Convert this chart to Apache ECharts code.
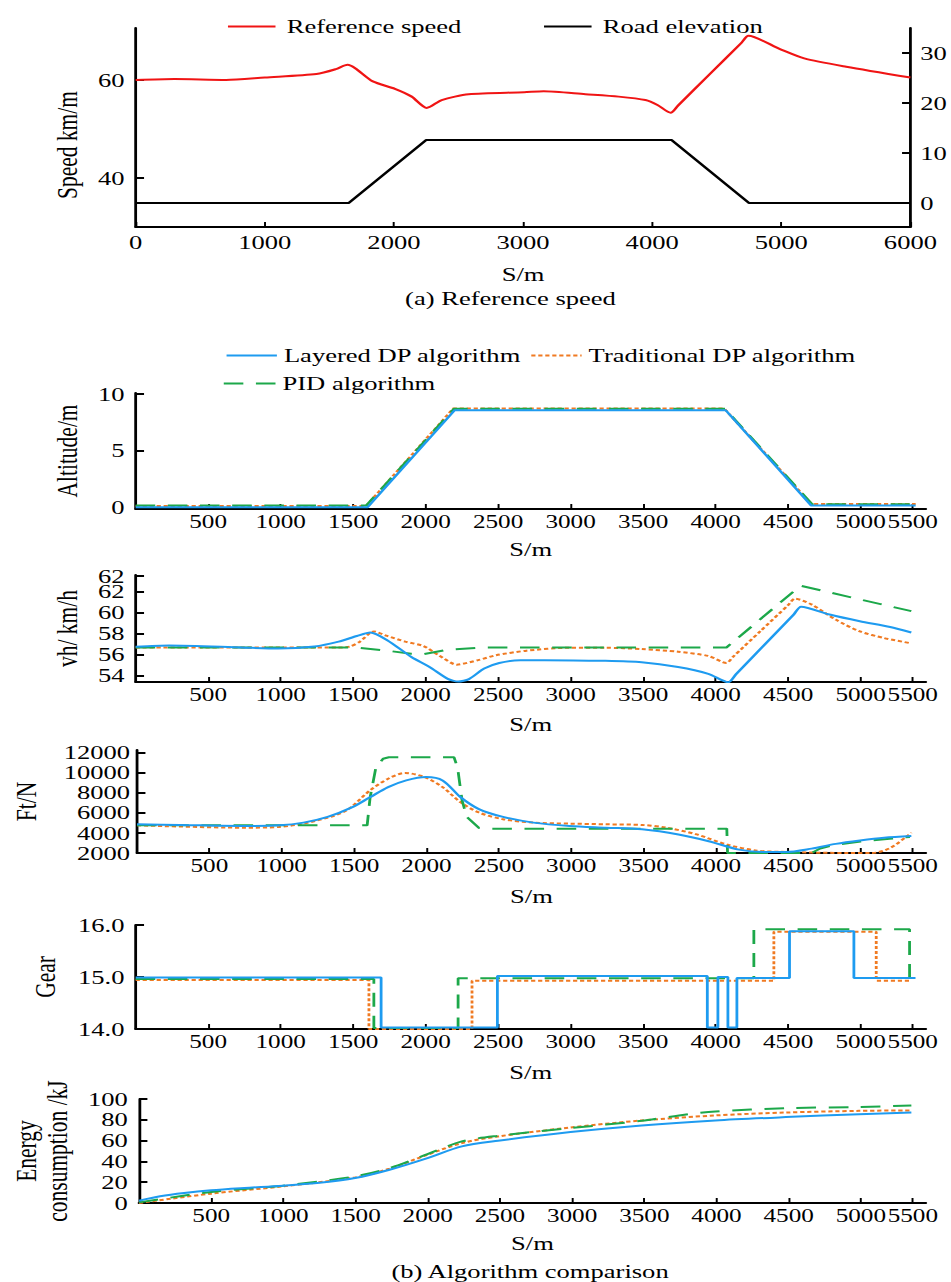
<!DOCTYPE html>
<html>
<head>
<meta charset="utf-8">
<title>Reference speed and algorithm comparison</title>
<script src="https://cdn.jsdelivr.net/npm/echarts@6.0.0/dist/echarts.min.js"></script>
<style>
html, body { margin: 0; padding: 0; background: #fff; overflow: hidden; }
/* the source figure is stretched sideways, so draw narrower and widen it */
#charts { width: 680px; height: 1282px; transform: scaleX(1.3985); transform-origin: 0 0; }
</style>
</head>
<body>
<div id="charts"></div>
<script>
// ---- data (distance in m, value) ----
var refSpeed = [[0,60],[300,60.2],[700,60],[1000,60.5],[1400,61.2],[1550,62.2],[1641,63.1],[1700,62.4],[1837,59.7],[2008,58.2],[2138,56.6],[2254,54.3],[2370,55.9],[2579,57.1],[3009,57.5],[3160,57.7],[3483,57.1],[3740,56.6],[3948,55.9],[4041,54.9],[4143,53.3],[4200,54.78],[4445,61.16],[4690,67.54],[4746,69.0],[4990,66.3],[5178,64.4],[5503,62.7],[6000,60.5]];
var roadElev = [[0,0],[1650,0],[2250,12.6],[4150,12.6],[4750,0],[6000,0]];

var altLayered = [[0,0],[1600,0],[2200,8.57],[4070,8.57],[4660,0.15],[5380,0.15]];
var altTraditional = [[0,0.12],[1590,0.12],[2190,8.72],[4060,8.72],[4660,0.3],[5380,0.3]];
var altPID = [[0,0.15],[1590,0.15],[2195,8.7],[4065,8.7],[4665,0.28],[5340,0.28]];

var vhLayered = [[0,56.78],[230,56.9],[731,56.7],[982,56.6],[1233,56.8],[1400,57.26],[1526,57.8],[1618,58.13],[1735,57.4],[1902,55.8],[2027,54.85],[2153,53.72],[2224,53.46],[2299,53.7],[2404,54.7],[2508,55.23],[2654,55.5],[2822,55.5],[3240,55.43],[3490,55.3],[3741,54.85],[3950,54.2],[4088,53.4],[4140,54.14],[4340,57.0],[4540,59.86],[4590,60.58],[4786,59.84],[4995,59.2],[5204,58.65],[5350,58.13]];
var vhTraditional = [[0,56.7],[1400,56.7],[1480,56.8],[1547,57.26],[1643,58.23],[1735,57.8],[1860,57.26],[1986,56.84],[2090,55.97],[2215,55.07],[2362,55.5],[2487,55.97],[2696,56.4],[2989,56.68],[3240,56.68],[3490,56.55],[3741,56.3],[3950,55.9],[4075,55.23],[4120,55.81],[4310,58.27],[4500,60.73],[4548,61.35],[4661,60.8],[4828,59.36],[4995,58.23],[5162,57.6],[5350,57.1]];
var vhPID = [[0,56.7],[1526,56.7],[1735,56.4],[1900,56.1],[1986,56.07],[2153,56.5],[2404,56.7],[4075,56.7],[4585,62.58],[5350,60.16]];

var ftLayered = [[0,4862],[300,4795],[731,4694],[982,4761],[1150,5030],[1317,5600],[1484,6545],[1609,7555],[1735,8566],[1860,9239],[1998,9576],[2111,9239],[2236,7555],[2362,6377],[2529,5600],[2738,5030],[2989,4694],[3240,4525],[3490,4357],[3741,3852],[3950,3178],[4159,2337],[4326,2100],[4481,2100],[4661,2438],[4828,2909],[4995,3246],[5162,3515],[5350,3683]];
var ftTraditional = [[0,4761],[731,4525],[982,4593],[1233,5200],[1442,6209],[1609,8229],[1735,9407],[1852,9980],[1986,9576],[2111,8566],[2236,7050],[2362,6040],[2529,5367],[2738,5030],[2989,4929],[3240,4862],[3490,4795],[3657,4525],[3867,3852],[4075,2842],[4285,2236],[4493,2100],[4912,2000],[5079,2000],[5204,2505],[5330,3785],[5350,4030]];
var ftPID = [[0,4761],[1590,4761],[1610,7500],[1650,10500],[1700,11400],[1740,11550],[2190,11550],[2215,10500],[2245,7300],[2278,5600],[2362,4500],[2420,4430],[4075,4430],[4080,2000],[4661,2000],[4720,2450],[4800,2750],[5000,3150],[5200,3420],[5340,3600]];

var gearLayered = [[0,14.99],[1693,14.03],[2495,15.02],[3943,14.03],[4016,15.0],[4085,14.03],[4147,14.98],[4510,15.88],[4954,14.98],[5379,14.98]];
var gearTraditional = [[0,14.94],[1609,14.0],[2320,14.93],[4402,15.87],[5108,14.93],[5338,14.93]];
var gearPID = [[0,14.96],[1643,14.02],[2224,14.975],[4264,15.92],[5338,14.98]];

var enLayered = [[0,2.2],[146,6.4],[313,9.6],[500,12.2],[731,14.4],[995,16.6],[1233,19.2],[1496,24],[1735,32],[1998,43.2],[2236,54.4],[2487,59.8],[2989,68.2],[3482,74.6],[3992,79.4],[4481,82.6],[4987,85.4],[5350,87]];
var enTraditional = [[0,0],[500,9],[995,16],[1496,24.6],[1735,33],[1998,46.4],[2236,57.6],[2487,64],[2989,72.6],[3482,79.4],[3992,84.2],[4481,87],[4987,88.6],[5350,89]];
var enPID = [[0,0.6],[500,10.6],[995,16.6],[1496,25.6],[1735,33.6],[1998,47],[2236,59.2],[2487,64.6],[2989,72],[3482,79],[3741,84.2],[3992,88],[4481,91.2],[4987,92.2],[5350,93.8]];

// tick labels (the last bottom tick sits at the axis end and reads 5500)
var xTicks = [500,1000,1500,2000,2500,3000,3500,4000,4500,5000,5360];
var speedTicks = [40,60];
var elevTicks = [0,10,20,30];
var altTicks = [0,5,10];
var vhTicks = [54,56,58,60,62];
var vhTopTick = [63.5];   // printed as a second "62" at the top of the axis
var ftTicks = [2000,4000,6000,8000,10000,12000];
var gearTicks = [14,15,16];
var enTicks = [0,20,40,60,80,100];

var F = "'Liberation Serif', 'Times New Roman', serif";
var BLUE = '#1e9bf0', ORANGE = '#f07a22', GREEN = '#1ca84a';
var nameStyle = {color:'#000', fontFamily:F, fontSize:19};
var yNameStyle = {color:'#000', fontFamily:F, fontSize:21.5, lineHeight:22};
var axLine = {onZero:false, lineStyle:{color:'#000', width:2}};
var noSymbol = {color:'rgba(0,0,0,0)', borderWidth:0};

function plain(v) { return String(v); }
function tick(vals, len, w) {
    return {inside:true, length:len, customValues:vals, lineStyle:{color:'#000', width:w}};
}
function label(vals, margin, size, fmt) {
    return {customValues:vals, margin:margin, color:'#000', fontFamily:F, fontSize:size,
        showMinLabel:true, showMaxLabel:true, formatter:fmt || plain};
}
function bottomX(i, gap) {
    return {gridIndex:i, type:'value', min:0, max:5450, name:'S/m', nameLocation:'middle', nameGap:gap,
        nameTextStyle:nameStyle, axisLine:axLine, axisTick:tick(xTicks, 5, 1.4),
        axisLabel:label(xTicks, 4, 18, function(v){ return v > 5100 ? '5500' : String(v); }),
        splitLine:{show:false}};
}
function leftY(i, name, min, max, vals, gap, margin, fmt) {
    return {gridIndex:i, type:'value', position:'left', min:min, max:max, name:name, nameLocation:'middle', nameGap:gap,
        nameTextStyle:yNameStyle, axisLine:axLine, axisTick:tick(vals, 6, 2),
        axisLabel:label(vals, margin, 19, fmt), splitLine:{show:false}};
}
function ser(name, xi, data, color, dash, smooth, step) {
    return {name:name, type:'line', xAxisIndex:xi, yAxisIndex:xi + 1, data:data, symbol:'none',
        smooth:smooth, step:step || false, color:color,
        lineStyle:{color:color, width:2, type:dash}};
}

// panel 2 labels sit close together, keep their boxes tight
var vhAxis = leftY(2, 'vh/ km/h', 53.42, 63.6, vhTicks, 36, 8);
vhAxis.axisLabel.lineHeight = 14;
var vhTopAxis = {gridIndex:2, type:'value', position:'left', min:53.42, max:63.6, axisLine:{show:false},
    axisTick:tick(vhTopTick, 6, 2), axisLabel:label(vhTopTick, 8, 19, function(){ return '62'; }),
    splitLine:{show:false}};
vhTopAxis.axisLabel.lineHeight = 14;

var myChart = echarts.init(document.getElementById('charts'), null, {renderer:'svg'});
var option = {
    animation:false,
    backgroundColor:'#fff',
    legend:[
        {data:['Reference speed','Road elevation'], left:157, top:12, itemWidth:34, itemHeight:14, itemGap:58,
            itemStyle:noSymbol, textStyle:{color:'#000', fontFamily:F, fontSize:19, padding:[0,0,0,3]}},
        {data:['Layered DP algorithm','Traditional DP algorithm'], left:156, top:341, itemWidth:36, itemHeight:14, itemGap:6,
            itemStyle:noSymbol, textStyle:{color:'#000', fontFamily:F, fontSize:19}},
        {data:['PID algorithm'], left:154, top:369, itemWidth:37, itemHeight:14,
            itemStyle:noSymbol, textStyle:{color:'#000', fontFamily:F, fontSize:19}}
    ],
    graphic:[
        {type:'text', x:365, y:298, style:{text:'(a) Reference speed', fill:'#000', fontFamily:F, fontSize:19, align:'center', verticalAlign:'middle'}},
        {type:'text', x:379, y:1271, style:{text:'(b) Algorithm comparison', fill:'#000', fontFamily:F, fontSize:19, align:'center', verticalAlign:'middle'}}
    ],
    grid:[
        {left:97, right:22, top:28, height:199},
        {left:97, right:18, top:393, height:116},
        {left:97, right:18, top:575, height:107},
        {left:97, right:18, top:750, height:103},
        {left:97, right:18, top:925, height:104},
        {left:97, right:18, top:1099, height:104}
    ],
    xAxis:[
        {gridIndex:0, type:'value', min:0, max:6000, interval:1000, name:'S/m', nameLocation:'middle', nameGap:38,
            nameTextStyle:nameStyle, axisLine:axLine, axisTick:{inside:true, length:5, lineStyle:{color:'#000', width:1.4}},
            axisLabel:{margin:6, color:'#000', fontFamily:F, fontSize:19, formatter:plain}, splitLine:{show:false}},
        bottomX(1, 31), bottomX(2, 33), bottomX(3, 34), bottomX(4, 34), bottomX(5, 31)
    ],
    yAxis:[
        {gridIndex:0, type:'value', position:'left', min:30, max:70.6, name:'Speed km/m', nameLocation:'middle', nameGap:34,
            nameTextStyle:{color:'#000', fontFamily:F, fontSize:21.5, padding:[0,35,0,0]},
            axisLine:axLine, axisTick:tick(speedTicks, 6, 2), axisLabel:label(speedTicks, 8, 19), splitLine:{show:false}},
        {gridIndex:0, type:'value', position:'right', min:-4.8, max:35,
            axisLine:{show:true, onZero:false, lineStyle:{color:'#000', width:2}}, axisTick:tick(elevTicks, 6, 2),
            axisLabel:label(elevTicks, 7, 19), splitLine:{show:false}},
        leftY(1, 'Altitude/m', -0.15, 10.1, altTicks, 30, 8),
        vhAxis,
        leftY(3, 'Ft/N', 2000, 12270, ftTicks, 68, 5),
        leftY(4, 'Gear', 14, 16, gearTicks, 54, 8, function(v){ return v.toFixed(1); }),
        leftY(5, 'Energy\nconsumption /kJ', 0, 100, enTicks, 40, 8),
        vhTopAxis
    ],
    series:[
        {name:'Reference speed', type:'line', xAxisIndex:0, yAxisIndex:0, data:refSpeed, symbol:'none',
            smooth:0.25, color:'#f01414', lineStyle:{color:'#f01414', width:2}},
        {name:'Road elevation', type:'line', xAxisIndex:0, yAxisIndex:1, data:roadElev, symbol:'none',
            color:'#000', lineStyle:{color:'#000', width:2}},

        ser('Traditional DP algorithm', 1, altTraditional, ORANGE, [3,2], false),
        ser('PID algorithm', 1, altPID, GREEN, [14,9], false),
        ser('Layered DP algorithm', 1, altLayered, BLUE, 'solid', false),

        ser('Traditional DP algorithm', 2, vhTraditional, ORANGE, [3,2], 0.25),
        ser('PID algorithm', 2, vhPID, GREEN, [14,9], false),
        ser('Layered DP algorithm', 2, vhLayered, BLUE, 'solid', 0.25),

        ser('Traditional DP algorithm', 3, ftTraditional, ORANGE, [3,2], 0.3),
        ser('PID algorithm', 3, ftPID, GREEN, [14,9], false),
        ser('Layered DP algorithm', 3, ftLayered, BLUE, 'solid', 0.3),

        ser('Traditional DP algorithm', 4, gearTraditional, ORANGE, [3,2], false, 'end'),
        ser('PID algorithm', 4, gearPID, GREEN, [14,9], false, 'end'),
        ser('Layered DP algorithm', 4, gearLayered, BLUE, 'solid', false, 'end'),

        ser('Traditional DP algorithm', 5, enTraditional, ORANGE, [3,2], 0.3),
        ser('PID algorithm', 5, enPID, GREEN, [14,9], 0.3),
        ser('Layered DP algorithm', 5, enLayered, BLUE, 'solid', 0.3)
    ]
};
// the top grid has two y axes, so bottom series use yAxis = xAxis + 1
myChart.setOption(option);
</script>
</body>
</html>
